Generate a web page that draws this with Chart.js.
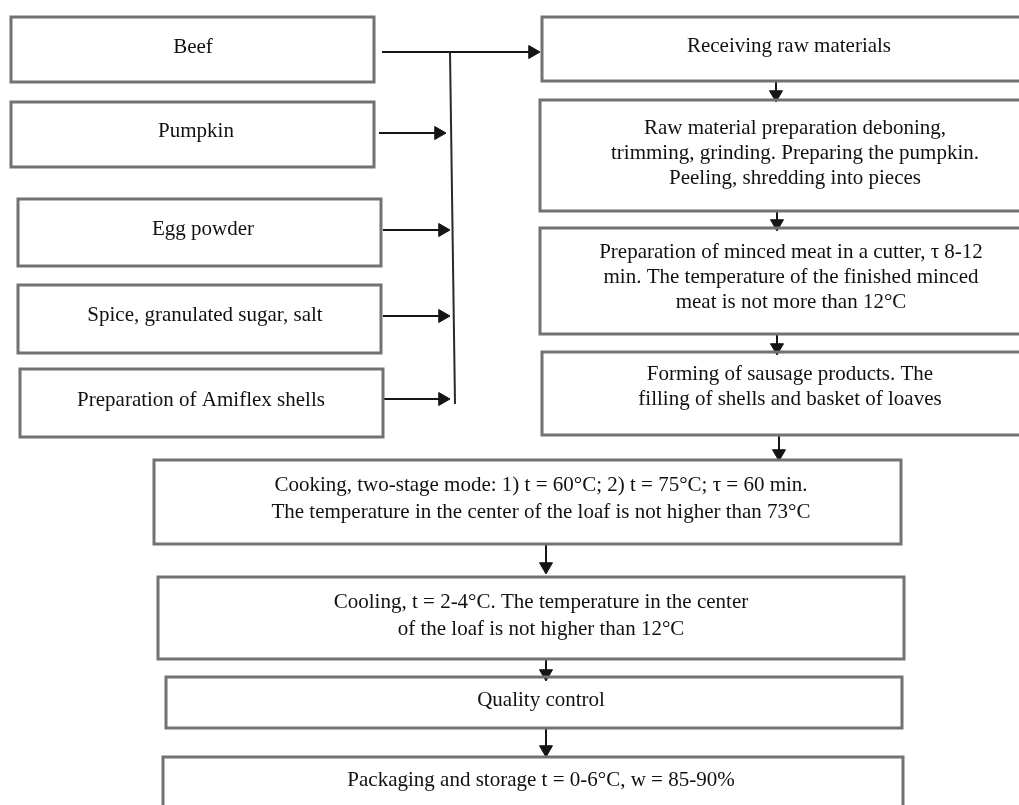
<!DOCTYPE html>
<html>
<head>
<meta charset="utf-8">
<script src="https://cdn.jsdelivr.net/npm/chart.js@4/dist/chart.umd.min.js"></script>
<style>
  html, body { margin: 0; padding: 0; background: #fff; }
  #flow { display: block; }
</style>
</head>
<body>
<canvas id="flow" width="1019" height="805"></canvas>
<script>
// ===== flowchart data (units = picture pixels) =====
const boxText = [
  ['Beef'],
  ['Pumpkin'],
  ['Egg powder'],
  ['Spice, granulated sugar, salt'],
  ['Preparation of Amiflex shells'],
  ['Receiving raw materials'],
  ['Raw material preparation deboning,', 'trimming, grinding. Preparing the pumpkin.', 'Peeling, shredding into pieces'],
  ['Preparation of minced meat in a cutter, \u03c4 8-12', 'min. The temperature of the finished minced', 'meat is not more than 12\u00b0C'],
  ['Forming of sausage products. The', 'filling of shells and basket of loaves'],
  ['Cooking, two-stage mode: 1) t = 60\u00b0C; 2) t = 75\u00b0C; \u03c4 = 60 min.', 'The temperature in the center of the loaf is not higher than 73\u00b0C'],
  ['Cooling, t = 2-4\u00b0C. The temperature in the center', 'of the loaf is not higher than 12\u00b0C'],
  ['Quality control'],
  ['Packaging and storage t = 0-6\u00b0C, w = 85-90%']
];
const boxLeft   = [11, 11, 18, 18, 20, 542, 540, 540, 542, 154, 158, 166, 163];
const boxRight  = [374, 374, 381, 381, 383, 1030, 1030, 1030, 1030, 901, 904, 902, 903];
const boxTop    = [17, 102, 199, 285, 369, 17, 100, 228, 352, 460, 577, 677, 757];
const boxBottom = [82, 167, 266, 353, 437, 81, 211, 334, 435, 544, 659, 728, 815];
// where each label block is centred
const textX = [193, 196, 203, 205, 201, 789, 795, 791, 790, 541, 541, 541, 541];
const textY = [47, 131, 229, 315, 400, 46, 153, 277, 387, 499, 616, 700, 780];

// arrows: start point -> tip
const arrowFrom = [[382, 52], [379, 133], [383, 230], [383, 316], [383, 399],
                   [776, 81], [777, 211], [777, 334], [779, 435], [546, 544], [546, 659], [546, 728]];
const arrowTo   = [[540, 52], [446, 133], [450, 230], [450, 316], [450, 399],
                   [776, 102], [777, 231], [777, 355], [779, 461], [546, 574], [546, 681], [546, 757]];
// plain connector (collecting line)
const busLine = [[450, 52], [455, 404]];

// ===== build datasets =====
const boxColor = '#727272';
const arrowColor = '#151515';
const headR = 7.5;

const datasets = [];
for (let i = 0; i < boxText.length; i++) {
  datasets.push({
    data: [
      {x: boxLeft[i], y: boxTop[i]},
      {x: boxRight[i], y: boxTop[i]},
      {x: boxRight[i], y: boxBottom[i]},
      {x: boxLeft[i], y: boxBottom[i]},
      {x: boxLeft[i], y: boxTop[i]}
    ],
    showLine: true,
    borderColor: boxColor,
    borderWidth: 3,
    borderCapStyle: 'square',
    borderJoinStyle: 'miter',
    pointRadius: 0,
    fill: false,
    tension: 0
  });
}

datasets.push({
  data: busLine.map(p => ({x: p[0], y: p[1]})),
  showLine: true,
  borderColor: '#2a2a2a',
  borderWidth: 2,
  pointRadius: 0
});

for (let i = 0; i < arrowFrom.length; i++) {
  const a = arrowFrom[i], b = arrowTo[i];
  const dx = b[0] - a[0], dy = b[1] - a[1];
  const len = Math.sqrt(dx * dx + dy * dy);
  // triangle centre sits one radius behind the tip
  const cx = b[0] - dx / len * headR, cy = b[1] - dy / len * headR;
  const rot = Math.atan2(dx, -dy) * 180 / Math.PI;
  datasets.push({
    data: [{x: a[0], y: a[1]}, {x: cx, y: cy}],
    showLine: true,
    borderColor: arrowColor,
    borderWidth: 2,
    pointStyle: 'triangle',
    pointRadius: [0, headR],
    pointRotation: rot,
    pointBackgroundColor: arrowColor,
    pointBorderColor: arrowColor,
    pointBorderWidth: 1
  });
}

// labels inside boxes
const boxLabels = {
  id: 'boxLabels',
  afterDatasetsDraw(chart) {
    const ctx = chart.ctx;
    const xs = chart.scales.x, ys = chart.scales.y;
    ctx.save();
    ctx.fillStyle = '#111';
    ctx.textAlign = 'center';
    ctx.textBaseline = 'middle';
    for (let i = 0; i < boxText.length; i++) {
      const lower = i >= 9;
      const gap = lower ? 27 : 25;
      ctx.font = '21px "Liberation Serif", "Times New Roman", serif';
      const lines = boxText[i];
      const cx = xs.getPixelForValue(textX[i]);
      const cy = ys.getPixelForValue(textY[i]);
      lines.forEach((t, k) => {
        ctx.fillText(t, cx, cy + (k - (lines.length - 1) / 2) * gap);
      });
    }
    ctx.restore();
  }
};

new Chart(document.getElementById('flow'), {
  type: 'scatter',
  data: { datasets: datasets },
  options: {
    responsive: false,
    animation: false,
    layout: { padding: 0, autoPadding: false },
    plugins: { legend: { display: false }, tooltip: { enabled: false } },
    scales: {
      x: { type: 'linear', min: 0, max: 1019, display: false },
      y: { type: 'linear', min: 0, max: 805, reverse: true, display: false }
    }
  },
  plugins: [boxLabels]
});
</script>
</body>
</html>
